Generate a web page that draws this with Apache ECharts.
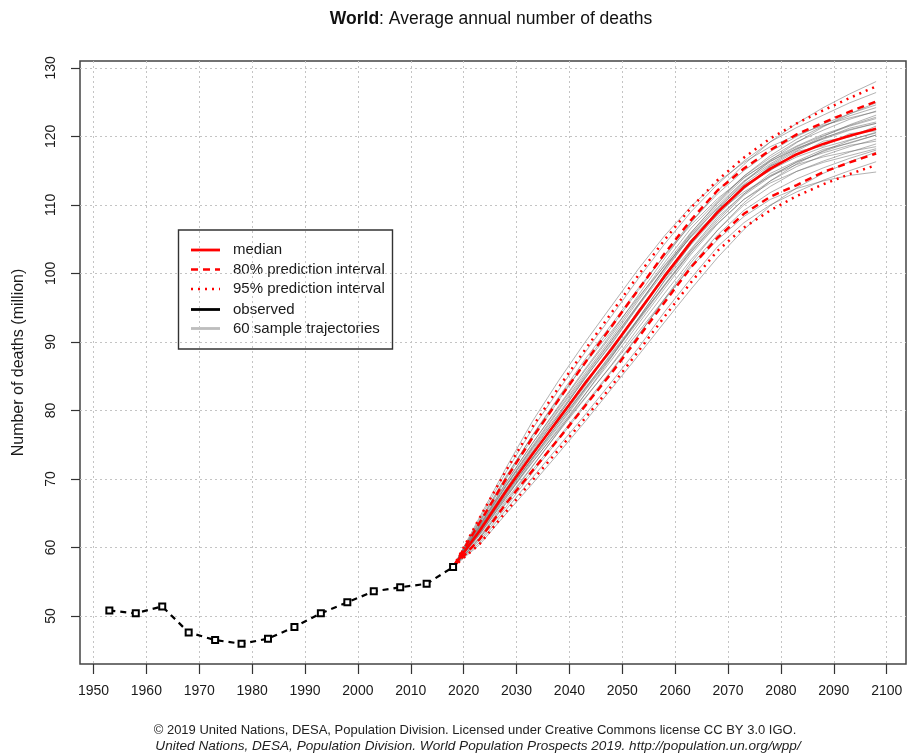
<!DOCTYPE html>
<html>
<head>
<meta charset="utf-8">
<script src="https://cdn.jsdelivr.net/npm/echarts@6/dist/echarts.min.js"></script>
<style>
html,body{margin:0;padding:0;background:#fff;}
#chart{width:907px;height:753px;}
</style>
</head>
<body>
<div id="chart"></div>
<script>
// ---- data ----
const xTicks = [1950,1960,1970,1980,1990,2000,2010,2020,2030,2040,2050,2060,2070,2080,2090,2100];
const yTicks = [50,60,70,80,90,100,110,120,130];

const obsYears  = [1953,1958,1963,1968,1973,1978,1983,1988,1993,1998,2003,2008,2013,2018];
const obsValues = [50.8,50.4,51.4,47.6,46.5,45.95,46.7,48.4,50.4,52.0,53.6,54.2,54.7,57.15];

const projYears = [2018,2023,2028,2033,2038,2043,2048,2053,2058,2063,2068,2073,2078,2083,2088,2093,2098];
const median = [57.15,62.4,68.2,73.6,78.8,84.0,89.0,94.3,99.6,104.6,108.9,112.6,115.3,117.4,118.9,120.1,121.1];
const upper80 = [57.15,63.6,70.0,76.0,81.6,87.0,92.3,97.6,102.9,107.8,112.1,115.3,118.0,120.3,122.0,123.6,125.1];
const lower80 = [57.15,61.2,66.4,71.2,75.9,80.7,85.5,90.6,95.8,100.9,105.2,108.7,111.2,112.9,114.8,116.2,117.5];
const upper95 = [57.15,64.3,71.2,77.6,83.4,88.9,94.3,99.7,104.9,109.6,113.6,116.9,119.7,121.9,123.8,125.6,127.3];
const lower95 = [57.15,60.5,65.2,69.8,74.3,78.9,83.6,88.6,93.7,98.7,103.3,106.7,109.2,111.3,113.0,114.5,115.8];

const sampleTrajectories = [
  [57.15,64.1,71.0,77.3,83.0,88.5,93.8,99.2,104.3,109.0,113.0,116.4,119.2,121.3,123.1,124.9,126.4],
  [57.15,60.7,65.5,70.2,74.8,79.4,84.2,89.1,94.4,99.3,103.9,107.4,110.0,111.9,113.6,115.0,116.3],
  [57.15,63.0,69.1,74.8,80.2,85.5,90.6,96.0,101.2,106.0,110.2,113.9,116.6,118.6,120.3,121.6,122.8],
  [57.15,61.8,67.3,72.4,77.4,82.4,87.4,92.6,97.8,102.8,107.2,110.8,113.5,115.6,117.2,118.5,119.6],
  [57.15,63.8,70.4,76.3,81.8,86.9,91.6,96.5,101.1,105.3,108.9,111.9,114.2,115.9,117.0,117.8,118.5],
  [57.15,61.3,66.6,71.8,77.0,82.4,87.8,93.4,99.0,104.3,109.2,113.3,116.5,119.1,121.4,123.3,124.9],
  [57.15,62.6,68.0,73.9,78.6,84.3,88.8,94.6,99.3,104.9,108.6,112.9,115.0,117.8,118.6,120.4,120.8],
  [57.15,63.5,70.0,75.9,81.5,87.0,92.2,97.5,102.7,107.5,111.6,115.0,117.8,120.0,121.8,123.3,124.6],
  [57.15,61.3,66.4,71.3,76.1,81.0,85.9,91.0,96.1,101.2,105.6,109.2,111.8,113.8,115.4,116.8,118.0],
  [57.15,64.4,71.6,78.4,84.4,90.0,95.3,100.6,105.5,109.8,113.3,116.2,118.5,120.2,121.6,122.7,123.6],
  [57.15,60.4,64.9,69.3,73.8,78.4,83.2,88.0,92.9,97.7,102.3,106.4,109.9,112.5,114.6,116.3,117.7],
  [57.15,62.9,68.5,74.3,79.3,84.8,89.7,95.2,100.3,105.5,109.6,113.4,116.0,118.3,119.7,121.2,122.1],
  [57.15,62.1,67.9,73.0,78.3,83.2,88.4,93.4,98.9,103.6,108.2,111.6,114.6,116.4,118.1,119.0,120.2],
  [57.15,63.1,69.4,75.2,80.7,86.1,91.3,96.8,102.2,107.4,112.0,115.9,119.2,121.9,124.2,126.2,128.0],
  [57.15,62.0,67.5,72.5,77.2,81.9,86.6,91.4,96.3,100.9,104.9,108.3,110.8,112.4,113.5,114.3,114.8],
  [57.15,63.3,69.5,75.2,80.5,85.9,91.0,96.3,101.6,106.6,110.6,114.2,116.9,119.2,120.9,122.5,123.7],
  [57.15,61.5,66.9,71.9,76.9,81.8,86.7,92.0,97.1,102.0,106.3,110.0,112.7,114.9,116.4,117.7,118.9],
  [57.15,62.5,68.4,73.5,79.1,83.9,89.3,94.1,99.9,104.4,109.3,112.4,115.7,117.2,119.3,119.9,121.5],
  [57.15,63.7,70.2,76.4,82.0,87.5,92.6,97.8,102.6,107.1,110.9,114.0,116.4,118.2,119.6,120.9,121.9],
  [57.15,61.0,65.9,70.9,75.8,80.7,85.7,90.9,96.3,101.6,106.3,110.3,113.5,116.0,117.9,119.4,120.6],
  [57.15,62.8,68.9,74.5,79.6,85.0,90.2,95.4,100.8,105.7,109.9,113.5,116.3,118.5,120.1,121.5,122.6],
  [57.15,62.2,67.6,73.0,77.9,83.1,88.0,93.2,98.4,103.4,107.9,111.6,114.3,116.2,117.8,119.1,120.2],
  [57.15,62.6,68.6,74.0,79.4,84.7,89.9,95.3,100.7,105.9,110.4,114.2,117.2,119.6,121.5,123.0,124.2],
  [57.15,62.3,67.8,73.1,78.2,83.3,88.2,93.3,98.3,103.2,107.3,110.8,113.2,114.9,116.2,117.2,118.2],
  [57.15,62.7,68.3,73.4,78.9,84.2,88.7,94.0,99.4,104.2,108.5,112.3,115.6,117.9,119.8,121.0,121.9],
  [57.15,62.3,68.0,73.7,78.5,83.6,89.1,94.5,99.8,104.8,109.1,112.7,115.1,117.0,118.4,119.5,120.5],
  [57.15,63.2,69.0,74.6,80.0,85.2,90.3,95.5,100.6,105.4,109.5,113.0,115.8,118.1,120.0,121.7,123.1],
  [57.15,61.9,67.2,72.8,77.7,82.9,87.9,93.0,98.2,103.1,107.6,111.4,114.1,116.3,117.6,118.7,119.3]
];

const titleBold = 'World';
const titleRest = ': Average annual number of deaths';
const yAxisTitle = 'Number of deaths (million)';
const footer1 = '\u00A9 2019 United Nations, DESA, Population Division. Licensed under Creative Commons license CC BY 3.0 IGO.';
const footer2 = 'United Nations, DESA, Population Division. World Population Prospects 2019. http://population.un.org/wpp/';
const legendLabels = ['median','80% prediction interval','95% prediction interval','observed','60 sample trajectories'];

// ---- chart ----
const FONT = 'Liberation Sans, Arial, sans-serif';
const chart = echarts.init(document.getElementById('chart'), null, {renderer:'canvas'});
const zip = (xs, ys) => xs.map((x,i)=>[x, ys[i]]);

const series = [];
sampleTrajectories.forEach(tr => {
  series.push({
    type:'line', name: legendLabels[4], data: zip(projYears, tr), symbol:'none', silent:true,
    lineStyle:{color:'#666', width:1, opacity:0.5}, z:1, animation:false
  });
});
const red = '#ff0000';
series.push({type:'line', name:legendLabels[2], data: zip(projYears, upper95), symbol:'none',
  lineStyle:{color:red, width:2.5, type:[2,5]}, z:3, animation:false});
series.push({type:'line', name:legendLabels[2], data: zip(projYears, lower95), symbol:'none',
  lineStyle:{color:red, width:2.5, type:[2,5]}, z:3, animation:false});
series.push({type:'line', name:legendLabels[1], data: zip(projYears, upper80), symbol:'none',
  lineStyle:{color:red, width:2.5, type:[7,5]}, z:3, animation:false});
series.push({type:'line', name:legendLabels[1], data: zip(projYears, lower80), symbol:'none',
  lineStyle:{color:red, width:2.5, type:[7,5]}, z:3, animation:false});
series.push({type:'line', name:legendLabels[0], data: zip(projYears, median), symbol:'none',
  lineStyle:{color:red, width:2.6}, z:4, animation:false});
series.push({type:'line', name:legendLabels[3], data: zip(obsYears, obsValues),
  symbol:'emptyRect', symbolSize:6, showAllSymbol:true,
  itemStyle:{color:'#000', borderWidth:1.6},
  lineStyle:{color:'#000', width:2.2, type:[6,5]}, z:5, animation:false});

const gridLine = {show:true, lineStyle:{color:'#c4c4c4', width:1, type:[2,3]}};

const legendX = 178.5, legendY = 230;
const legendRows = [250, 269.5, 289, 309.5, 328.5];
const legendStyles = [
  {stroke:red, lineWidth:2.8},
  {stroke:red, lineWidth:2.5, lineDash:[7,5]},
  {stroke:red, lineWidth:2.5, lineDash:[2,5]},
  {stroke:'#000', lineWidth:2.8},
  {stroke:'#bdbdbd', lineWidth:2.8}
];
const legendChildren = [{type:'rect', shape:{x:legendX, y:legendY, width:214, height:119},
  style:{fill:'#fff', stroke:'#333', lineWidth:1.4}}];
legendLabels.forEach((lab,i)=>{
  legendChildren.push({type:'line', shape:{x1:191, y1:legendRows[i], x2:220, y2:legendRows[i]}, style:legendStyles[i]});
  legendChildren.push({type:'text', style:{text:lab, x:233, y:legendRows[i], fill:'#1a1a1a',
    font:'15px ' + FONT, verticalAlign:'middle', align:'left'}});
});

chart.setOption({
  animation:false,
  backgroundColor:'#fff',
  grid:{left:80, top:61, width:826, height:603, containLabel:false, outerBoundsMode:'none',
    show:true, borderColor:'#444', borderWidth:1.5, backgroundColor:'transparent'},
  xAxis:{type:'value', min:1947.45, max:2103.65,
    axisLine:{show:false},
    axisTick:{show:true, customValues:xTicks, length:10, lineStyle:{color:'#333', width:1.2}},
    axisLabel:{customValues:xTicks, margin:20, fontSize:14, color:'#1a1a1a', fontFamily:FONT,
      formatter:v => String(v)},
    splitLine:gridLine},
  yAxis:{type:'value', min:43.0, max:131.0,
    name:yAxisTitle, nameLocation:'middle', nameGap:53, nameRotate:90,
    nameTextStyle:{fontSize:16, color:'#1a1a1a', fontFamily:FONT},
    axisLine:{show:false},
    axisTick:{show:true, customValues:yTicks, length:9, lineStyle:{color:'#333', width:1.2}},
    axisLabel:{customValues:yTicks, rotate:90, margin:22, fontSize:14, color:'#1a1a1a', fontFamily:FONT,
      formatter:v => String(v)},
    splitLine:gridLine},
  series: series,
  graphic:[
    {type:'text', z:100, style:{text:'{b|' + titleBold + '}' + titleRest, x:491, y:19, align:'center', verticalAlign:'middle',
      fill:'#111', font:'17.5px ' + FONT, rich:{b:{fontWeight:'bold', fontSize:17.5, fontFamily:FONT, fill:'#111'}}}},
    {type:'text', z:100, style:{text:footer1, x:475, y:730, align:'center', verticalAlign:'middle', fill:'#222', font:'13px ' + FONT}},
    {type:'text', z:100, style:{text:footer2, x:478, y:746, align:'center', verticalAlign:'middle', fill:'#222', font:'italic 13.6px ' + FONT}},
    {type:'group', z:100, children:legendChildren}
  ]
});
</script>
</body>
</html>
